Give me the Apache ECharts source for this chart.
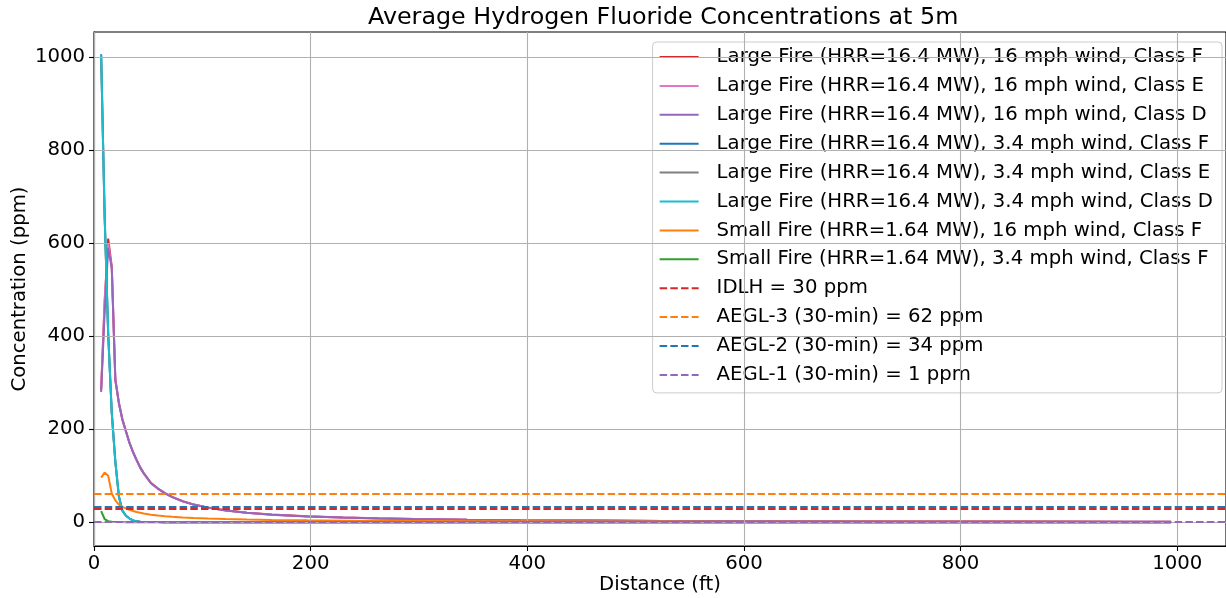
<!DOCTYPE html>
<html>
<head>
<meta charset="utf-8">
<script src="https://cdn.jsdelivr.net/npm/echarts@6/dist/echarts.min.js"></script>
<style>
html, body { margin: 0; padding: 0; background: #ffffff; }
#chart { width: 1226px; height: 598px; }
</style>
</head>
<body>
<div id="chart"></div>
<script>
// ---- data ----
const titleText = 'Average Hydrogen Fluoride Concentrations at 5m';
const xTitle = 'Distance (ft)';
const yTitle = 'Concentration (ppm)';
const xTicks = [0, 200, 400, 600, 800, 1000];
const yTicks = [0, 200, 400, 600, 800, 1000];

const distances = [6.6, 9.8, 13.1, 16.4, 19.7, 23.0, 26.2, 29.5, 32.8, 36.1, 39.4, 42.7, 45.9, 52.5, 59.1, 65.6, 72.2, 82.0, 91.9, 105.0, 121.4, 141.1, 164.0, 196.9, 229.7, 262.5, 295.3, 344.5, 393.7, 459.3, 524.9, 590.6, 656.2, 754.6, 853.0, 951.4, 994.1];

const seriesNames = [
  'Large Fire (HRR=16.4 MW), 16 mph wind, Class F',
  'Large Fire (HRR=16.4 MW), 16 mph wind, Class E',
  'Large Fire (HRR=16.4 MW), 16 mph wind, Class D',
  'Large Fire (HRR=16.4 MW), 3.4 mph wind, Class F',
  'Large Fire (HRR=16.4 MW), 3.4 mph wind, Class E',
  'Large Fire (HRR=16.4 MW), 3.4 mph wind, Class D',
  'Small Fire (HRR=1.64 MW), 16 mph wind, Class F',
  'Small Fire (HRR=1.64 MW), 3.4 mph wind, Class F'
];

const large16F = [285, 470, 610, 550, 308, 257, 222, 196, 171, 151, 134, 118, 106, 85, 72.5, 62.5, 54.5, 45.3, 38.3, 31.7, 25.7, 20.6, 16.5, 12.7, 10.2, 8.4, 7.0, 5.6, 4.6, 3.7, 3.0, 2.6, 2.2, 1.8, 1.5, 1.3, 1.2];
const large16E = [290, 480, 600, 548, 306, 256, 221, 195, 170, 150, 133, 117, 105, 84, 72, 62, 54, 45, 38, 31.5, 25.5, 20.5, 16.4, 12.6, 10.1, 8.3, 7.0, 5.6, 4.6, 3.7, 3.0, 2.6, 2.2, 1.8, 1.5, 1.3, 1.2];
const large16D = [280, 450, 590, 546, 305, 255, 220, 195, 170, 150, 133, 117, 105, 84, 72, 62, 54, 45, 38, 31.5, 25.5, 20.5, 16.4, 12.6, 10.1, 8.3, 7.0, 5.6, 4.6, 3.7, 3.0, 2.6, 2.2, 1.8, 1.5, 1.3, 1.2];
const large34F = [1006, 662, 406, 236, 131, 56, 25, 14, 8, 4, 2, 1.2, 0.8, 0.5, 0.35, 0.25, 0.2, 0.15, 0.12, 0.1, 0.08, 0.06, 0.05, 0.04, 0.03, 0.03, 0.02, 0.02, 0.02, 0.01, 0.01, 0.01, 0.01, 0.01, 0.01, 0.01, 0.01];
const large34E = [1002, 658, 404, 234, 129, 55, 25, 14, 8, 4, 2, 1.2, 0.8, 0.5, 0.35, 0.25, 0.2, 0.15, 0.12, 0.1, 0.08, 0.06, 0.05, 0.04, 0.03, 0.03, 0.02, 0.02, 0.02, 0.01, 0.01, 0.01, 0.01, 0.01, 0.01, 0.01, 0.01];
const large34D = [1004, 660, 405, 235, 130, 55, 25, 14, 8, 4, 2, 1.2, 0.8, 0.5, 0.35, 0.25, 0.2, 0.15, 0.12, 0.1, 0.08, 0.06, 0.05, 0.04, 0.03, 0.03, 0.02, 0.02, 0.02, 0.01, 0.01, 0.01, 0.01, 0.01, 0.01, 0.01, 0.01];
const small16F = [96, 107, 100, 62, 47, 38, 33, 30, 26.9, 24.4, 22.2, 20.4, 18.9, 16.4, 14.5, 13.0, 11.7, 10.2, 9.1, 7.9, 6.8, 5.8, 5.0, 4.1, 3.5, 3.0, 2.7, 2.3, 2.0, 1.7, 1.5, 1.3, 1.2, 1.0, 0.9, 0.8, 0.8];
const small34F = [24, 7, 2.5, 1.2, 0.7, 0.5, 0.4, 0.3, 0.25, 0.2, 0.18, 0.15, 0.13, 0.1, 0.08, 0.07, 0.06, 0.05, 0.04, 0.03, 0.03, 0.02, 0.02, 0.02, 0.01, 0.01, 0.01, 0.01, 0.01, 0.01, 0.01, 0.01, 0.01, 0.01, 0.01, 0.01, 0.01];

const thresholdNames = ['IDLH = 30 ppm', 'AEGL-3 (30-min) = 62 ppm', 'AEGL-2 (30-min) = 34 ppm', 'AEGL-1 (30-min) = 1 ppm'];
const thresholdValues = [30, 62, 34, 1];

// ---- styles ----
const seriesValues = [large16F, large16E, large16D, large34F, large34E, large34D, small16F, small34F];
const seriesColors = ['#d62728', '#e377c2', '#9467bd', '#1f77b4', '#7f7f7f', '#17becf', '#ff7f0e', '#2ca02c'];
const thresholdColors = ['#d62728', '#ff7f0e', '#1f77b4', '#9467bd'];
const FONT = "'DejaVu Sans', sans-serif";
const FS = 19.7;
const dash = [7.5, 3.2];

const series = [];
// grid lines (behind data)
series.push({
  type: 'line', data: [], silent: true, z: 1,
  markLine: {
    silent: true, symbol: ['none', 'none'], label: { show: false }, animation: false,
    lineStyle: { color: '#b0b0b0', width: 1.1, type: 'solid' },
    emphasis: { disabled: true },
    data: xTicks.map(v => ({ xAxis: v })).concat(yTicks.map(v => ({ yAxis: v })))
  }
});
seriesNames.forEach((name, i) => {
  series.push({
    name: name, type: 'line', z: 2,
    data: distances.map((d, j) => [d, seriesValues[i][j]]),
    symbol: 'none', showSymbol: false,
    lineStyle: { color: seriesColors[i], width: 2 },
    itemStyle: { color: seriesColors[i] },
    emphasis: { disabled: true }
  });
});
thresholdNames.forEach((name, i) => {
  series.push({
    name: name, type: 'line', z: 3, data: [],
    symbol: 'none',
    lineStyle: { color: thresholdColors[i], width: 2, type: dash },
    itemStyle: { color: thresholdColors[i] },
    markLine: {
      silent: true, symbol: ['none', 'none'], label: { show: false }, animation: false,
      lineStyle: { color: thresholdColors[i], width: 2, type: dash },
      emphasis: { disabled: true },
      data: [{ yAxis: thresholdValues[i] }]
    }
  });
});

const chart = echarts.init(document.getElementById('chart'), null, { renderer: 'canvas' });
chart.setOption({
  animation: false,
  backgroundColor: '#ffffff',
  textStyle: { fontFamily: FONT },
  title: {
    text: titleText, left: 368, top: 6, padding: 0,
    textStyle: { fontFamily: FONT, fontSize: 23.8, fontWeight: 'normal', color: '#000' }
  },
  grid: {
    left: 94, top: 32, right: 0, bottom: 52, containLabel: false,
    outerBoundsMode: 'none',
    show: true, borderColor: '#000', borderWidth: 1.1, backgroundColor: 'transparent'
  },
  legend: {
    orient: 'vertical', right: 4, top: 42,
    data: seriesNames.concat(thresholdNames),
    itemWidth: 39, itemHeight: 14, itemGap: 8.9,
    padding: [5, 9, 8, 6],
    backgroundColor: 'rgba(255,255,255,0.8)',
    borderColor: '#cccccc', borderWidth: 1, borderRadius: 4,
    selectedMode: false,
    itemStyle: { opacity: 0 },
    textStyle: { fontFamily: FONT, fontSize: FS, color: '#000', lineHeight: 20, padding: [0, 0, 0, 13] }
  },
  xAxis: {
    type: 'value', min: 0, max: 1045,
    name: xTitle, nameLocation: 'middle', nameGap: 29, nameMoveOverlap: false,
    nameTextStyle: { fontFamily: FONT, fontSize: FS, color: '#000' },
    axisLine: { show: true, onZero: false, lineStyle: { color: '#000', width: 1.1 } },
    axisTick: { show: true, length: 5, lineStyle: { color: '#000', width: 1.1 }, customValues: xTicks },
    axisLabel: { fontFamily: FONT, fontSize: FS, color: '#000', margin: 8, customValues: xTicks, formatter: v => String(v) },
    splitLine: { show: false }
  },
  yAxis: {
    type: 'value', min: -51, max: 1054,
    name: yTitle, nameLocation: 'middle', nameGap: 64, nameMoveOverlap: false,
    nameTextStyle: { fontFamily: FONT, fontSize: FS, color: '#000' },
    axisLine: { show: true, onZero: false, lineStyle: { color: '#000', width: 1.1 } },
    axisTick: { show: true, length: 5, lineStyle: { color: '#000', width: 1.1 }, customValues: yTicks },
    axisLabel: { fontFamily: FONT, fontSize: FS, color: '#000', margin: 9, customValues: yTicks, formatter: v => String(v) },
    splitLine: { show: false }
  },
  series: series
});
</script>
</body>
</html>
